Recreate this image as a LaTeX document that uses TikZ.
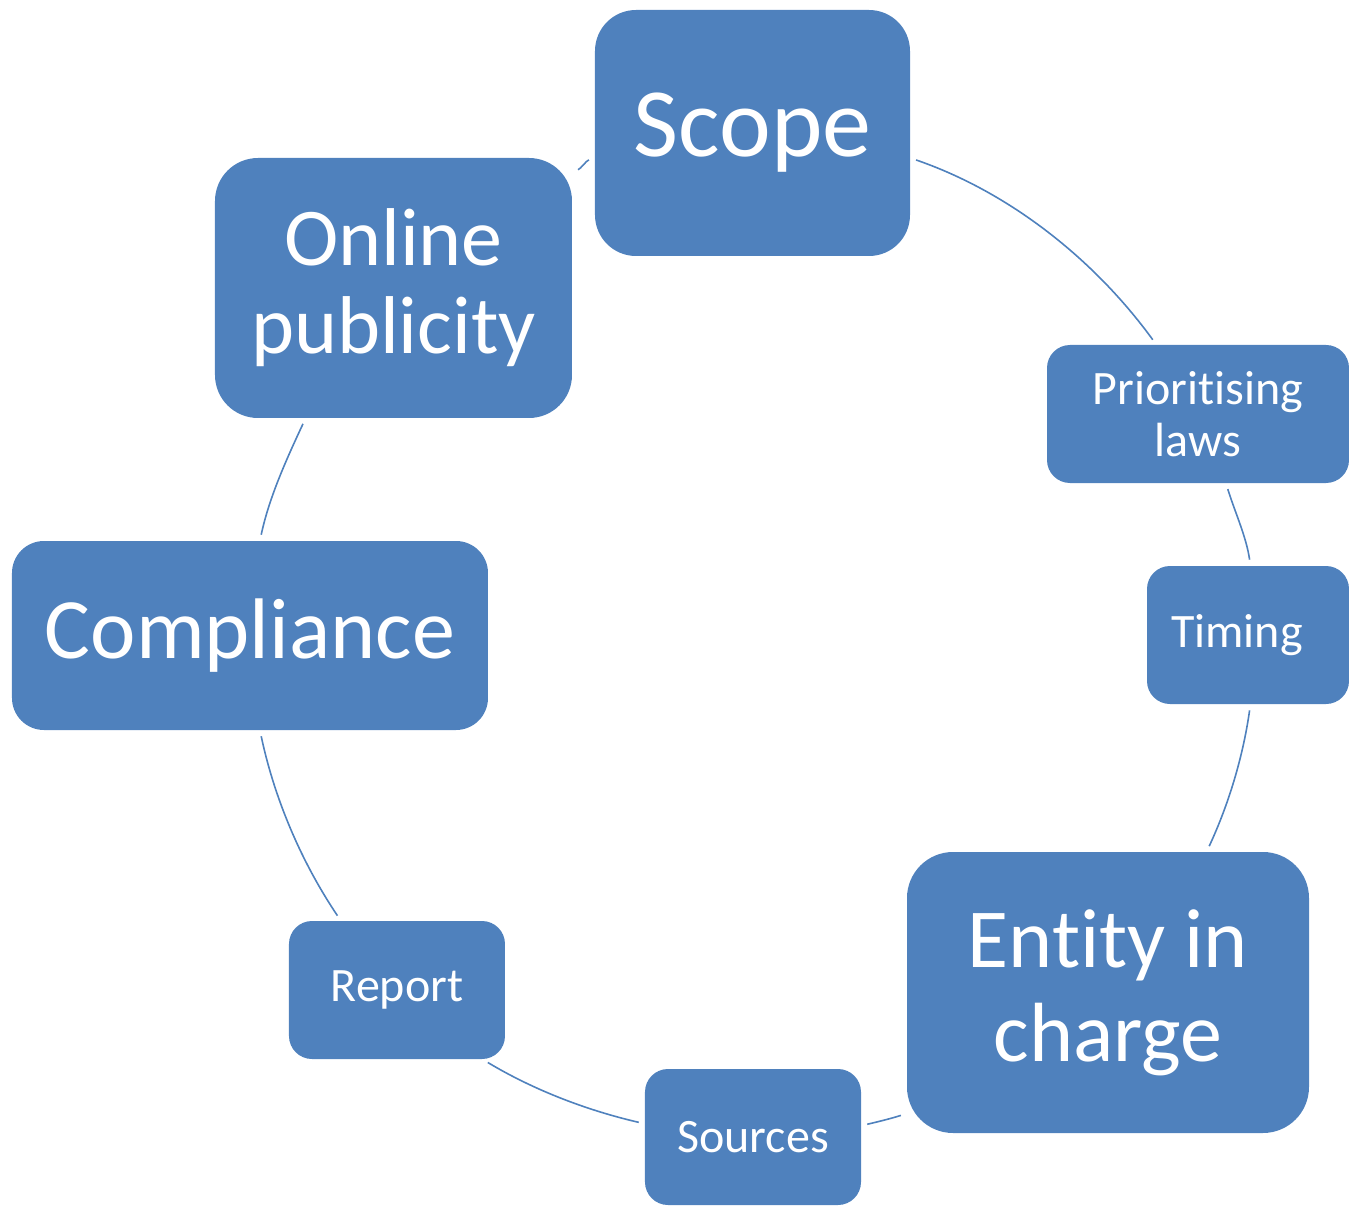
\documentclass[tikz,border=0pt]{standalone}
\usepackage{fontspec}
\setmainfont{Carlito}[Ligatures=NoCommon]
\usepackage{xcolor}
\usepackage{tikz}
\definecolor{boxblue}{HTML}{4F81BD}

\begin{document}
\begin{tikzpicture}[x=0.5pt,y=0.5pt,
    box/.style={rectangle, fill=boxblue, text=white, align=center, inner sep=0pt},
    small/.style={box, minimum width=108pt, minimum height=69pt, rounded corners=11.5pt,
        font=\fontsize{24}{26}\selectfont},
    link/.style={draw=boxblue, line width=0.8pt, looseness=0.87, shorten <=3pt, shorten >=3pt}]
    \useasboundingbox (-750,-570) rectangle (599,635);

    % Nodes
    \node[box, minimum width=157.5pt, minimum height=123pt, rounded corners=20.5pt,
        font=\fontsize{49}{53}\selectfont] (scope) at (2.5,502) {Scope};
    \node[small, minimum width=151pt] (prio) at (448,221) {Prioritising\\laws};
    \node[small, minimum width=101pt] (timing) at (498,0) {Timing\hspace*{11pt}};
    \node[box, minimum width=201pt, minimum height=140.5pt, rounded corners=23pt,
        font=\fontsize{42}{47}\selectfont] (entity) at (358,-357.5) {Entity in\\charge};
    \node[small, minimum height=68pt] (sources) at (3,-502) {Sources};
    \node[small] (report) at (-353,-355) {Report};
    \node[box, minimum width=238pt, minimum height=94.5pt, rounded corners=16pt,
        font=\fontsize{43}{47}\selectfont] (compliance) at (-500,-0.5) {Compliance};
    \node[box, minimum width=178.5pt, minimum height=130pt, rounded corners=21.5pt,
        font=\fontsize{41}{44}\selectfont] (online) at (-356.5,347) {Online\\publicity};

    % Edges
    \path[link]
        (online.33) edge[out=20, in=198] (scope.189)
        (scope.-9) edge[out=-19, in=126] (prio.121)
        (prio.-68) edge[out=-73, in=98] (timing.88)
        (timing.-88) edge[out=-98, in=65] (entity.55)
        (entity.211) edge[out=198, in=13] (sources.6)
        (sources.173) edge[out=167, in=-31] (report.-39)
        (report.129) edge[out=124, in=-78] (compliance.-84)
        (compliance.84) edge[out=78, in=245] (online.236);
\end{tikzpicture}
\end{document}
